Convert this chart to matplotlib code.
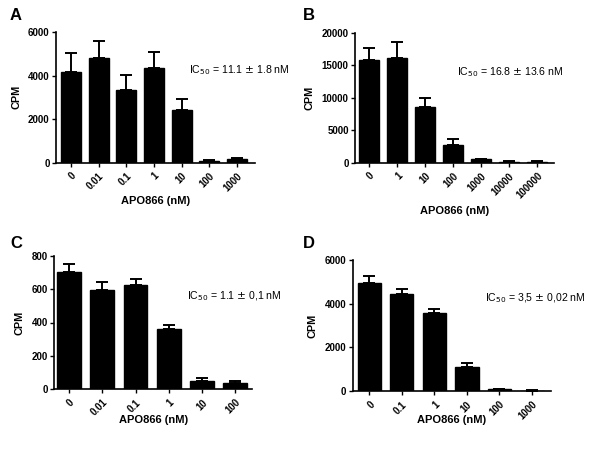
import matplotlib
matplotlib.use('Agg')
import matplotlib.pyplot as plt

plt.rcParams['font.family'] = ['Liberation Sans', 'DejaVu Sans']

# panel data (mean CPM, upper SEM)
a_labels = ['0', '0.01', '0.1', '1', '10', '100', '1000']
a_mean = [4150, 4800, 3350, 4330, 2400, 90, 180]
a_err = [870, 800, 680, 770, 520, 30, 40]

b_labels = ['0', '1', '10', '100', '1000', '10000', '100000']
b_mean = [15800, 16100, 8500, 2650, 500, 150, 150]
b_err = [1800, 2400, 1500, 950, 120, 80, 80]

c_labels = ['0', '0.01', '0.1', '1', '10', '100']
c_mean = [705, 598, 626, 358, 50, 38]
c_err = [48, 44, 33, 28, 19, 11]

d_labels = ['0', '0.1', '1', '10', '100', '1000']
d_mean = [4950, 4420, 3560, 1100, 70, 20]
d_err = [310, 270, 190, 190, 25, 10]

W, H = 600, 454
fig = plt.figure(figsize=(6, 4.54), dpi=100)


def px_axes(l, t, r, b):
    return fig.add_axes([l / W, 1 - b / H, (r - l) / W, (b - t) / H])


def panel(box, labels, mean, err, ymax, ystep, xlim, letter, letter_xy, ic50, ic50_xy, xlabel_y):
    ax = px_axes(*box)
    x = list(range(len(labels)))
    ax.bar(x, mean, width=0.72, color='black', edgecolor='black')
    ax.errorbar(x, mean, yerr=[[0] * len(err), err], fmt='none', ecolor='black',
                elinewidth=1.4, capsize=4, capthick=1.4)
    ax.set_xlim(*xlim)
    ax.set_ylim(0, ymax)
    ax.set_yticks(range(0, ymax + 1, ystep))
    ax.set_xticks(x)
    ax.set_xticklabels(labels, rotation=45, ha='right', rotation_mode='anchor',
                       fontsize=7, fontweight='bold')
    for t in ax.get_yticklabels():
        t.set_fontsize(7)
        t.set_fontweight('bold')
    ax.spines['top'].set_visible(False)
    ax.spines['right'].set_visible(False)
    ax.spines['left'].set_linewidth(1.2)
    ax.spines['bottom'].set_linewidth(1.2)
    ax.tick_params(axis='both', direction='out', length=3, width=1.0, pad=1.5)
    ax.tick_params(axis='x', pad=3)
    ax.set_ylabel('CPM', fontsize=7.8, fontweight='bold', labelpad=5)
    fig.text(letter_xy[0] / W, 1 - letter_xy[1] / H, letter, fontsize=12,
             fontweight='bold', ha='left', va='center')
    fig.text(ic50_xy[0] / W, 1 - ic50_xy[1] / H, ic50, fontsize=7.6,
             ha='left', va='center')
    xc = (box[0] + box[2]) / 2
    fig.text(xc / W, 1 - xlabel_y / H, 'APO866 (nM)', fontsize=8,
             fontweight='bold', ha='center', va='center')
    return ax


panel((56, 32, 255, 162.7), a_labels, a_mean, a_err, 6000, 2000, (-0.54, 6.65),
      'A', (10, 15), r'IC$_{50}$ = 11.1 $\pm$ 1.8 nM', (189, 70), 201)
panel((355, 32.7, 554, 162.7), b_labels, b_mean, b_err, 20000, 5000, (-0.5, 6.6),
      'B', (303, 16), r'IC$_{50}$ = 16.8 $\pm$ 13.6 nM', (457, 72), 211)
panel((54, 256, 252.3, 389), c_labels, c_mean, c_err, 800, 200, (-0.45, 5.51),
      'C', (10, 244), r'IC$_{50}$ = 1.1 $\pm$ 0,1 nM', (187, 296), 420)
panel((352.7, 260, 551, 391), d_labels, d_mean, d_err, 6000, 2000, (-0.51, 5.59),
      'D', (303, 244), r'IC$_{50}$ = 3,5 $\pm$ 0,02 nM', (485, 298), 420)

plt.savefig('out.png', dpi=100)
